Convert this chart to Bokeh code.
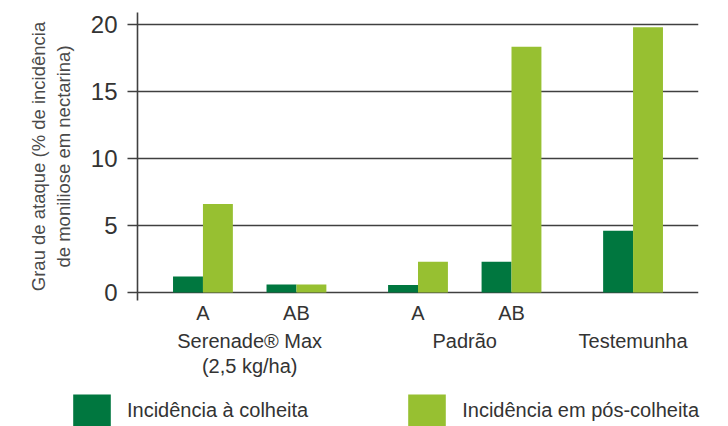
from bokeh.plotting import figure
from bokeh.layouts import column
from bokeh.models import ColumnDataSource, FactorRange, Range1d, FixedTicker, Legend, LegendItem
from bokeh.transform import dodge
from bokeh.embed import file_html
from bokeh.resources import INLINE

# ---- data ----
groups = ["Serenade® Max\n(2,5 kg/ha)", "Serenade® Max\n(2,5 kg/ha)", "Padrão", "Padrão", "Testemunha"]
subs = ["A", "AB", "A", "AB", ""]
colheita = [1.2, 0.6, 0.55, 2.3, 4.6]
pos_colheita = [6.6, 0.6, 2.3, 18.35, 19.8]
series_names = ["Incidência à colheita", "Incidência em pós-colheita"]
y_ticks = [0, 5, 10, 15, 20]
y_label = "Grau de ataque (% de incidência\nde moniliose em nectarina)"

DARK = "#00773F"
LIGHT = "#97C031"
GRID = "#404040"
TXT = "#333333"
FONT = "Liberation Sans"

# a short blank second line under the letter labels spaces the group names lower
factors = [(g, s + "\n\u00a0") for g, s in zip(groups, subs)]
source = ColumnDataSource(data=dict(x=factors, a=colheita, b=pos_colheita))

x_range = FactorRange(*factors, group_padding=0.3, factor_padding=0.0,
                      range_padding=0.2, range_padding_units="absolute")

p = figure(width=712, height=390, x_range=x_range, y_range=Range1d(-0.6, 20.9),
           output_backend="svg", toolbar_location=None, frame_align=False,
           min_border_left=137, min_border_right=14, min_border_top=12, min_border_bottom=90)
p.outline_line_color = None
p.background_fill_color = "white"

r1 = p.vbar(x=dodge("x", -0.16, range=p.x_range), top="a", width=0.32, source=source,
            fill_color=DARK, line_color=None)
r2 = p.vbar(x=dodge("x", 0.16, range=p.x_range), top="b", width=0.32, source=source,
            fill_color=LIGHT, line_color=None)

# grid
p.xgrid.grid_line_color = None
p.ygrid.grid_line_color = GRID
p.ygrid.grid_line_width = 1.6
p.ygrid.ticker = FixedTicker(ticks=y_ticks)

# y axis
ya = p.yaxis[0]
ya.ticker = FixedTicker(ticks=y_ticks)
ya.axis_line_color = GRID
ya.axis_line_width = 1.6
ya.major_tick_line_color = GRID
ya.major_tick_line_width = 1.6
ya.major_tick_out = 10
ya.major_tick_in = 0
ya.minor_tick_line_color = None
ya.major_label_text_font = FONT
ya.major_label_text_font_size = "24px"
ya.major_label_text_color = TXT
ya.major_label_standoff = 10
ya.axis_label = y_label
ya.axis_label_text_font = FONT
ya.axis_label_text_font_size = "18.5px"
ya.axis_label_text_font_style = "normal"
ya.axis_label_text_color = "#4a4a4a"
ya.axis_label_standoff = 14

# x axis
xa = p.xaxis[0]
xa.axis_line_color = None
xa.major_tick_line_color = None
xa.minor_tick_line_color = None
xa.separator_line_color = None
xa.major_label_text_font = FONT
xa.major_label_text_font_size = "20px"
xa.major_label_text_color = TXT
xa.major_label_text_line_height = 0.4
xa.major_label_standoff = -5
xa.group_text_font = FONT
xa.group_text_font_size = "20px"
xa.group_text_font_style = "normal"
xa.group_text_color = TXT
xa.group_text_line_height = 1.12

# ---- legend strip (separate figure, same data, bars kept out of its view) ----
leg = figure(width=712, height=36, x_range=p.x_range, y_range=Range1d(100, 101),
             output_backend="svg", toolbar_location=None, frame_align=False,
             x_axis_location=None, y_axis_location=None,
             min_border_left=0, min_border_right=0, min_border_top=0, min_border_bottom=0)
leg.outline_line_color = None
leg.xgrid.grid_line_color = None
leg.ygrid.grid_line_color = None
l1 = leg.vbar(x=dodge("x", -0.16, range=leg.x_range), top="a", width=0.32, source=source,
              fill_color=DARK, line_color=None)
l2 = leg.vbar(x=dodge("x", 0.16, range=leg.x_range), top="b", width=0.32, source=source,
              fill_color=LIGHT, line_color=None)

legend = Legend(items=[LegendItem(label=series_names[0], renderers=[l1]),
                       LegendItem(label=series_names[1], renderers=[l2])],
                orientation="horizontal", location=(68, -4),
                glyph_width=47, glyph_height=40, label_standoff=12, spacing=95,
                padding=0, margin=0, border_line_color=None, background_fill_alpha=0,
                label_text_font=FONT, label_text_font_size="20px", label_text_color=TXT)
leg.add_layout(legend, "center")

layout = column(p, leg, spacing=0)
open("out.html", "w").write(file_html(layout, INLINE))
